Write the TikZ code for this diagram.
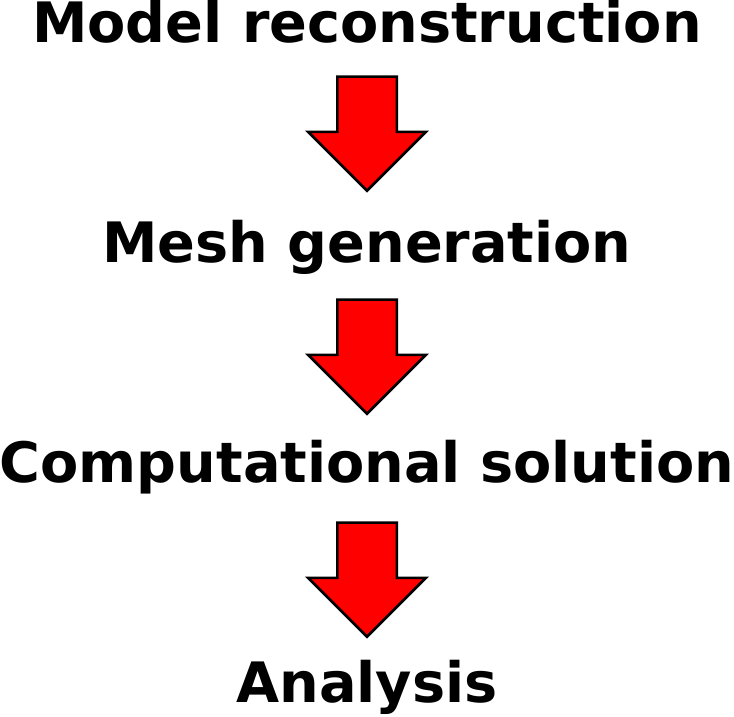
\documentclass[tikz,border=0pt]{standalone}
\usepackage{fontspec}
\setmainfont{DejaVu Sans}
\usepackage{tikz}
\usetikzlibrary{shapes.arrows}
\tikzstyle{step label}=[font=\fontsize{55.7}{62}\selectfont\bfseries, inner sep=0pt, anchor=base]
\tikzstyle{down arrow}=[single arrow, draw=black, fill=red, line width=2.5pt, shape border rotate=270, single arrow head extend=29pt, minimum width=116pt, minimum height=114pt, inner sep=28.5pt, anchor=tail]

\begin{document}
\begin{tikzpicture}[x=1pt, y=1pt]
                    \useasboundingbox[fill=white] (0, 0) rectangle (734, 717);
                    \node[step label] (model) at (367, 674) {Model reconstruction};
                    \node[step label] (mesh) at (367, 454) {Mesh generation};
                    \node[step label] (comp) at (367, 234) {Computational solution};
                    \node[step label] (anal) at (367, 14) {Analysis};
                    \node[down arrow] (a1) at (367, 641.5) {};
                    \node[down arrow] (a2) at (367, 418.5) {};
                    \node[down arrow] (a3) at (367, 195.5) {};
                \end{tikzpicture}
\end{document}
